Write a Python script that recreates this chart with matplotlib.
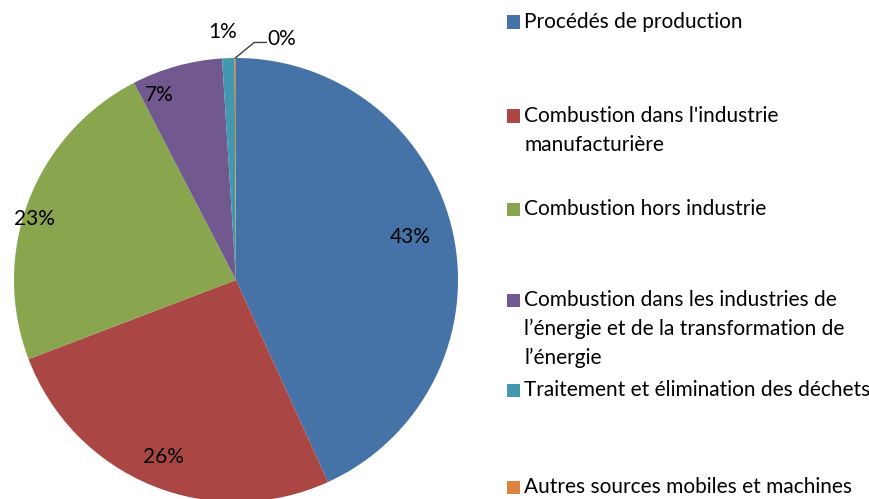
import matplotlib
matplotlib.use("Agg")
import numpy as np
import matplotlib.pyplot as plt
from matplotlib.patches import Rectangle

categories = [
    "Procédés de production",
    "Combustion dans l'industrie\nmanufacturière",
    "Combustion hors industrie",
    "Combustion dans les industries de\nl’énergie et de la transformation de\nl’énergie",
    "Traitement et élimination des déchets",
    "Autres sources mobiles et machines",
]
shares = [43.2, 26.0, 23.2, 6.6, 0.9, 0.1]
pct_labels = ["43%", "26%", "23%", "7%", "1%", "0%"]
colors = ["#4572A7", "#AA4643", "#89A54E", "#71588F", "#4198AF", "#DB843D"]

plt.rcParams["font.family"] = ["Lato", "DejaVu Sans"]
W, H = 870, 499
fig = plt.figure(figsize=(W / 100, H / 100), dpi=100)

# pie axes placed in pixel terms: centre (236, 280), radius 222
cx, cy, r = 236, 280, 222
ax = fig.add_axes([(cx - r) / W, (H - cy - r) / H, 2 * r / W, 2 * r / H])
wedges, _ = ax.pie(shares, colors=colors, startangle=90, counterclock=False,
                   radius=1.0, wedgeprops=dict(linewidth=0))
ax.set_xlim(-1, 1)
ax.set_ylim(-1, 1)
ax.set_axis_off()

fs = 15
# label placement (radius fraction, angle tweak in degrees)
label_pos = [(0.81, 1.5), (0.86, 0.0), (0.95, 4.0), (0.90, 7.0)]
for w, txt, (rr, da) in zip(wedges[:4], pct_labels[:4], label_pos):
    ang = np.deg2rad((w.theta1 + w.theta2) / 2 + da)
    ax.text(rr * np.cos(ang), rr * np.sin(ang), txt, ha="center", va="center",
            fontsize=fs, color="black")

# small slices: outside labels
w = wedges[4]
ang = np.deg2rad((w.theta1 + w.theta2) / 2)
ax.text(1.12 * np.cos(ang) - 0.02, 1.12 * np.sin(ang), pct_labels[4],
        ha="center", va="center", fontsize=fs)
w = wedges[5]
ang = np.deg2rad((w.theta1 + w.theta2) / 2)
x0, y0 = np.cos(ang), np.sin(ang)
ax.plot([x0, x0 + 0.085, x0 + 0.14], [y0, y0 + 0.07, y0 + 0.07],
        color="#404040", lw=1, clip_on=False)
ax.text(x0 + 0.145, y0 + 0.085, pct_labels[5], ha="left", va="center",
        fontsize=fs)

# legend drawn by hand to follow the spacing of the original
legend_y = [22, 116, 209, 300, 390, 487]
line_gap = 29
for lab, col, yy in zip(categories, colors, legend_y):
    fig.patches.append(Rectangle((507 / W, (H - yy - 6.5) / H), 13 / W, 13 / H,
                                 transform=fig.transFigure, facecolor=col,
                                 edgecolor="none"))
    for k, line in enumerate(lab.split("\n")):
        fig.text(524 / W, (H - yy - k * line_gap) / H, line, ha="left",
                 va="center", fontsize=fs, color="black")

fig.savefig("out.png", dpi=100)
